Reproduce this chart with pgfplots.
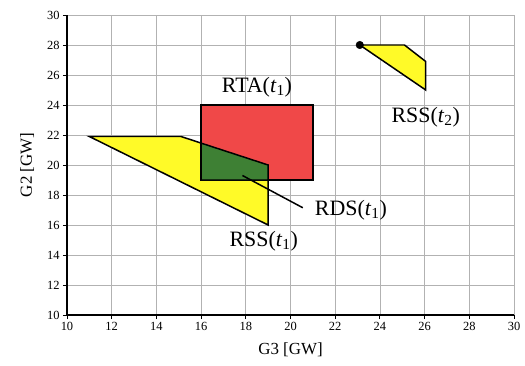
\documentclass[border=0pt]{standalone}
\usepackage{pgfplots}
\pgfplotsset{compat=1.18}
\usepackage{fontspec}
\setmainfont{Liberation Serif}
\definecolor{rssyellow}{RGB}{255,250,40}
\definecolor{rtared}{RGB}{240,72,72}
\definecolor{rdsgreen}{RGB}{62,128,52}
\begin{document}
\begin{tikzpicture}
\begin{axis}[
  scale only axis,
  width=447bp, height=300bp,
  xmin=10, xmax=30, ymin=10, ymax=30,
  xtick={10,12,...,30}, ytick={10,12,...,30},
  grid=major,
  major grid style={gray!60, line width=0.8pt},
  axis x line=bottom, axis y line=left,
  axis line style={line width=2.2pt, -},
  tick style={black, line width=0.9pt},
  tick align=outside,
  major tick length=4bp,
  ticklabel style={font=\fontsize{12.5}{14}\selectfont},
  /pgf/number format/assume math mode=true,
  xlabel={G3 [GW]}, ylabel={G2 [GW]},
  label style={font=\fontsize{17}{19}\selectfont},
  xlabel style={yshift=-5bp},
  ylabel style={yshift=6bp},
  clip=false,
]
% reachable set RSS(t1)
\addplot[draw=black, line width=1.5pt, fill=rssyellow] coordinates
  {(11,21.9) (15.1,21.9) (19,20) (19,16)} -- cycle;
% reachable target area RTA(t1)
\addplot[draw=black, line width=1.5pt, fill=rtared] coordinates
  {(16,19) (21,19) (21,24) (16,24)} -- cycle;
% overlap RDS(t1)
\addplot[draw=black, line width=1.5pt, fill=rdsgreen] coordinates
  {(16,19) (19,19) (19,20) (16,21.46)} -- cycle;
% pointer to RDS label
\addplot[black, line width=1.5pt] coordinates {(17.85,19.3) (20.55,17.15)};
% reachable set RSS(t2)
\addplot[draw=black, line width=1.5pt, fill=rssyellow] coordinates
  {(23.1,28) (25.1,28) (26.05,26.9) (26.05,25)} -- cycle;
\addplot[only marks, mark=*, mark size=3.8bp, black] coordinates {(23.1,28)};
% labels
\node[font=\fontsize{22}{24}\selectfont] at (axis cs:18.5,25.2) {RTA(\textit{t}\textsubscript{1})};
\node[font=\fontsize{22}{24}\selectfont] at (axis cs:18.8,14.95) {RSS(\textit{t}\textsubscript{1})};
\node[font=\fontsize{22}{24}\selectfont] at (axis cs:22.7,17.0) {RDS(\textit{t}\textsubscript{1})};
\node[font=\fontsize{22}{24}\selectfont] at (axis cs:26.05,23.2) {RSS(\textit{t}\textsubscript{2})};
\end{axis}
\path (current axis.south west) ++(-67bp,-51bp) coordinate (bbsw);
\path (current axis.north east) ++(11bp,15bp) coordinate (bbne);
\useasboundingbox (bbsw) rectangle (bbne);
\end{tikzpicture}
\end{document}
